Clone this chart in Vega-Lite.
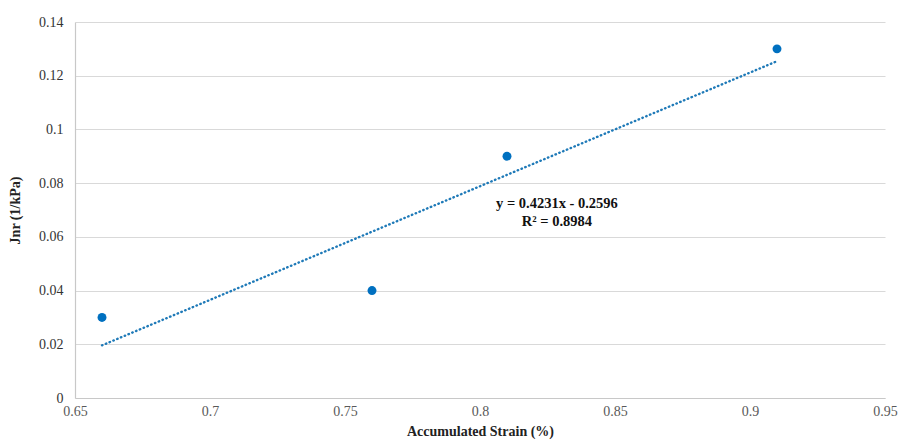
{
  "$schema": "https://vega.github.io/schema/vega-lite/v6.json",
  "width": 810,
  "height": 376,
  "autosize": "none",
  "padding": {"left": 75, "top": 22, "right": 16, "bottom": 48},
  "background": "white",
  "config": {
    "view": {"stroke": null},
    "font": "Liberation Serif",
    "axis": {"labelFont": "Liberation Serif", "titleFont": "Liberation Serif"}
  },
  "datasets": {
    "points": [
      {"strain": 0.66, "jnr": 0.03},
      {"strain": 0.76, "jnr": 0.04},
      {"strain": 0.81, "jnr": 0.09},
      {"strain": 0.91, "jnr": 0.13}
    ],
    "trend": [
      {"strain": 0.66, "jnr": 0.0196},
      {"strain": 0.91, "jnr": 0.1254}
    ],
    "labels": [
      {"strain": 0.8285, "jnr": 0.0722, "text": "y = 0.4231x - 0.2596"},
      {"strain": 0.8285, "jnr": 0.0655, "text": "R² = 0.8984"}
    ]
  },
  "layer": [
    {
      "data": {"name": "trend"},
      "mark": {"type": "line", "color": "#1f7ab8", "strokeWidth": 2.4, "strokeDash": [0.5, 3.6], "strokeCap": "round"},
      "encoding": {
        "x": {
          "field": "strain", "type": "quantitative",
          "scale": {"domain": [0.65, 0.95], "nice": false, "zero": false},
          "axis": {
            "title": "Accumulated Strain (%)",
            "titleFont": "Liberation Serif", "titleFontSize": 14, "titleFontWeight": "bold", "titleColor": "#222",
            "titlePadding": 6,
            "values": [0.65, 0.7, 0.75, 0.8, 0.85, 0.9, 0.95],
            "labelExpr": "datum.value == 0.7 ? '0.7' : datum.value == 0.8 ? '0.8' : datum.value == 0.9 ? '0.9' : format(datum.value, '.2f')",
            "labelFont": "Liberation Serif", "labelFontSize": 14, "labelColor": "#595959",
            "labelPadding": 6, "ticks": false, "grid": false,
            "domainColor": "#c8c8c8", "domainWidth": 1.2,
            "labelFlush": false
          }
        },
        "y": {
          "field": "jnr", "type": "quantitative",
          "scale": {"domain": [0, 0.14], "nice": false},
          "axis": {
            "title": "Jnr (1/kPa)",
            "titleFont": "Liberation Serif", "titleFontSize": 14, "titleFontWeight": "bold", "titleColor": "#222",
            "titlePadding": 16,
            "values": [0, 0.02, 0.04, 0.06, 0.08, 0.1, 0.12, 0.14],
            "labelExpr": "datum.value == 0 ? '0' : datum.value == 0.1 ? '0.1' : format(datum.value, '.2f')",
            "labelFont": "Liberation Serif", "labelFontSize": 14, "labelColor": "#333",
            "labelPadding": 12, "ticks": false,
            "grid": true, "gridColor": "#d9d9d9", "gridWidth": 1.2,
            "domainColor": "#c8c8c8", "domainWidth": 1.2
          }
        }
      }
    },
    {
      "data": {"name": "points"},
      "mark": {"type": "point", "filled": true, "color": "#0070c0", "size": 80, "opacity": 1},
      "encoding": {
        "x": {"field": "strain", "type": "quantitative"},
        "y": {"field": "jnr", "type": "quantitative"}
      }
    },
    {
      "data": {"name": "labels"},
      "mark": {"type": "text", "font": "Liberation Serif", "fontSize": 14.5, "fontWeight": "bold", "color": "#111", "align": "center", "baseline": "middle"},
      "encoding": {
        "x": {"field": "strain", "type": "quantitative"},
        "y": {"field": "jnr", "type": "quantitative"},
        "text": {"field": "text"}
      }
    }
  ]
}
